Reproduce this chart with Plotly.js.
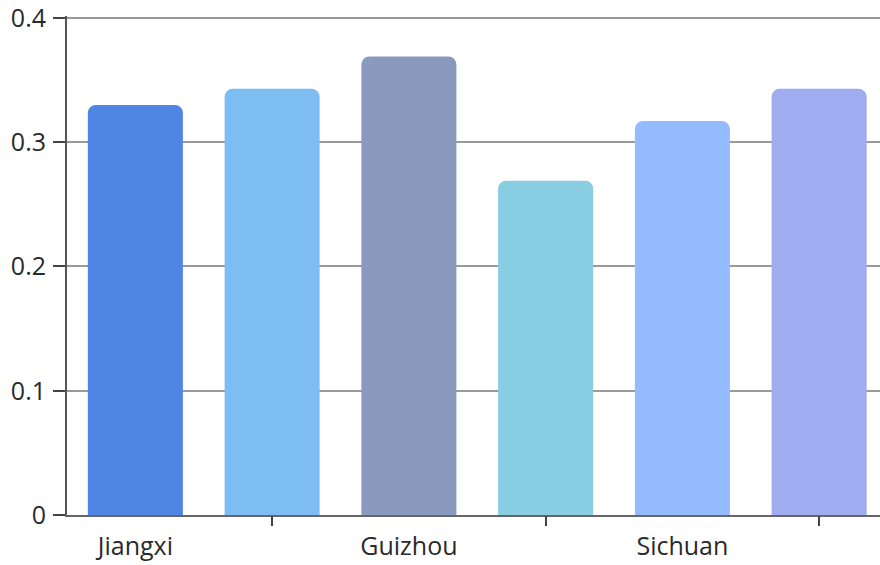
<!DOCTYPE html>
<html>
<head>
<meta charset="utf-8">
<script src="https://cdn.plot.ly/plotly-3.0.1.min.js"></script>
<style>
  html, body { margin: 0; padding: 0; background: #fff; }
  #chart { width: 880px; height: 565px; }
</style>
</head>
<body>
<div id="chart"></div>
<script>
// Provinces and their values
const provinces = ['Jiangxi', 'Hunan', 'Guizhou', 'Yunnan', 'Sichuan', 'Chongqing'];
const values = [0.330, 0.343, 0.369, 0.269, 0.317, 0.343];
const barColors = ['#4f86e3', '#7dbdf2', '#8a9abf', '#89cde3', '#93bbfd', '#9facf0'];

// Labels are shown on every other province; tick marks sit on the others
const labelledCats = provinces.filter((_, i) => i % 2 === 0);
const tickedCats = provinces.filter((_, i) => i % 2 === 1);

const yTicks = [0, 0.1, 0.2, 0.3, 0.4];
const yTickText = ['0', '0.1', '0.2', '0.3', '0.4'];

const fontFamily = '"Open Sans", "Noto Sans", sans-serif';
const labelFont = { family: fontFamily, size: 25, color: '#2a2a2a' };
const xLabelFont = { family: fontFamily, size: 25, color: '#2a2a2a' };
const xRange = [-0.5, 5.445];

const trace = {
  type: 'bar',
  x: provinces,
  y: values,
  marker: { color: barColors, cornerradius: 8, line: { width: 0 } },
  hoverinfo: 'x+y'
};

// Invisible helper trace so the secondary axis (tick marks only) renders
const tickTrace = {
  type: 'scatter',
  mode: 'markers',
  x: provinces,
  y: values,
  xaxis: 'x2',
  marker: { opacity: 0 },
  hoverinfo: 'skip',
  showlegend: false
};

const layout = {
  width: 880,
  height: 565,
  margin: { l: 67, r: 0, t: 16, b: 50 },
  paper_bgcolor: '#ffffff',
  plot_bgcolor: '#ffffff',
  showlegend: false,
  bargap: 0.305,
  font: labelFont,
  xaxis: {
    type: 'category',
    categoryorder: 'array',
    categoryarray: provinces,
    range: xRange,
    tickmode: 'array',
    tickvals: labelledCats,
    ticktext: labelledCats,
    ticks: '',
    ticklabelstandoff: 8,
    ticklabeloverflow: 'allow',
    showgrid: false,
    showline: true,
    linecolor: '#666666',
    linewidth: 2,
    tickfont: xLabelFont,
    zeroline: false
  },
  xaxis2: {
    type: 'category',
    categoryorder: 'array',
    categoryarray: provinces,
    range: xRange,
    overlaying: 'x',
    anchor: 'y',
    side: 'bottom',
    tickmode: 'array',
    tickvals: tickedCats,
    ticktext: tickedCats.map(() => ''),
    ticks: 'outside',
    ticklen: 10,
    tickwidth: 2,
    tickcolor: '#444444',
    showgrid: false,
    showline: false,
    zeroline: false
  },
  yaxis: {
    range: [0, 0.4016],
    tickmode: 'array',
    tickvals: yTicks,
    ticktext: yTickText,
    ticks: 'outside',
    ticklen: 12,
    tickwidth: 2,
    tickcolor: '#444444',
    ticklabelstandoff: 2,
    ticklabeloverflow: 'allow',
    showline: true,
    linecolor: '#555555',
    linewidth: 2,
    showgrid: true,
    gridcolor: '#9a9a9a',
    gridwidth: 2,
    zeroline: false,
    tickfont: labelFont
  }
};

Plotly.newPlot('chart', [trace, tickTrace], layout, { displayModeBar: false, staticPlot: true });
</script>
</body>
</html>
